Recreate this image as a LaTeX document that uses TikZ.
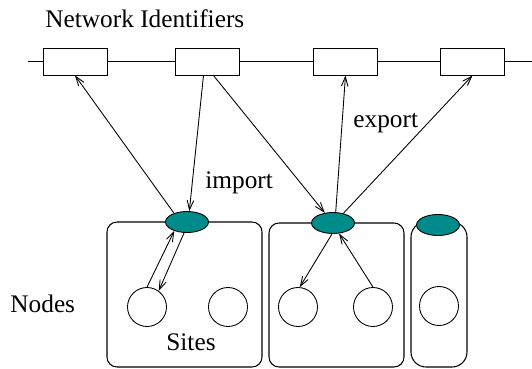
\documentclass[tikz,border=0pt]{standalone}
\usepackage{fontspec}
\setmainfont{Liberation Serif}
\newfontfamily\figfont{Liberation Serif}
\usetikzlibrary{shapes.geometric}
\usetikzlibrary{positioning}
\usetikzlibrary{arrows.meta}
\usepackage{xcolor}
\definecolor{portteal}{RGB}{0,139,139}

\begin{document}
\begin{tikzpicture}[x=0.02cm, y=-0.02cm,
    font=\figfont\fontsize{14.4}{17}\selectfont,
    every path/.style={line width=0.5pt},
    idbox/.style={draw, fill=white, minimum width=1.28cm, minimum height=0.54cm, inner sep=0pt},
    port/.style={ellipse, draw, fill=portteal, minimum width=0.86cm, minimum height=0.42cm, inner sep=0pt},
    site/.style={circle, draw, fill=white, minimum size=0.78cm, inner sep=0pt},
    nodebox/.style={line width=0.6pt, rounded corners=0.2cm},
    msg/.style={-{Straight Barb[length=1.9mm,width=1.3mm]}},
    txt/.style={inner sep=0pt, anchor=base west}]
            \useasboundingbox (0,0) rectangle (532,369);

            % Network identifiers
            \node[txt] (title) at (45,27) {Network Identifiers};
            \coordinate (lstart) at (28,61.5);
            \coordinate (lend) at (532,61.5);
            \node[idbox] (id1) at (75,61.5) {};
            \node[idbox] (id2) at (207.5,61.5) {};
            \node[idbox] (id3) at (345.5,61.5) {};
            \node[idbox] (id4) at (472.5,61.5) {};
            \draw (lstart) -- (id1) -- (id2) -- (id3) -- (id4) -- (lend);

            % Nodes
            \draw[nodebox] (107,222) rectangle (262,367);
            \draw[nodebox] (269,223) rectangle (404,367);
            \draw[nodebox, rounded corners=0.3cm] (411,222) rectangle (467,367);
            \node[port] (e1) at (187,222) {};
            \node[port] (e2) at (333,223) {};
            \node[port] (e3) at (438,225) {};

            % Sites
            \node[site] (s1) at (147,307) {};
            \node[site] (s2) at (228,307) {};
            \node[site] (s3) at (298,307) {};
            \node[site] (s4) at (373,307) {};
            \node[site] (s5) at (439,306) {};

            \node[txt] (nodes) at (10,312) {Nodes};
            \node[inner sep=0pt, anchor=base] (sites) at (191,350) {Sites};
            \node[txt] (import) at (205,188) {import};
            \node[txt] (export) at (353,127) {export};

            % import / export
            \draw[msg] (e1.146) -- (id1.south);
            \draw[msg] (id2.254) -- (e1.78);
            \draw[msg] (id2.293) -- (e2.129);
            \draw[msg] (e2.76) -- (id3.south);
            \draw[msg] (e2.43) -- (id4.south);

            % inside the nodes
            \draw[msg] (s1.90) -- (e1.215);
            \draw[msg] (e1.255) -- (s1.54);
            \draw[msg] (e2.265) -- (s3.85);
            \draw[msg] (s4.90) -- (e2.300);
        \end{tikzpicture}
\end{document}
